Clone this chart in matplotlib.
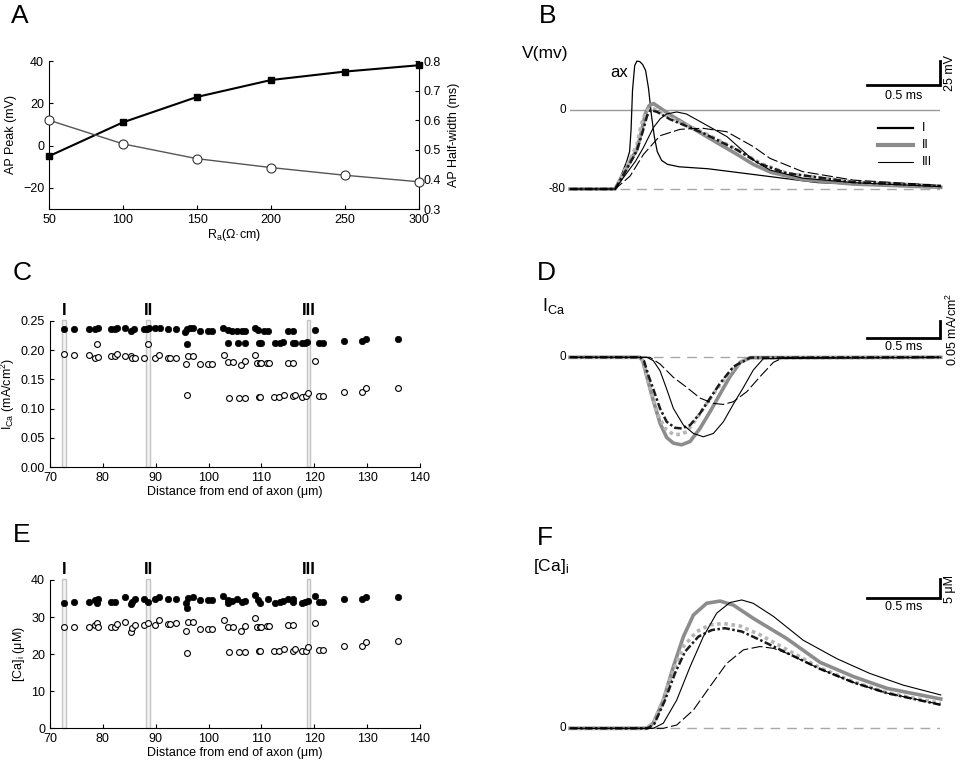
import matplotlib
matplotlib.use('Agg')
import matplotlib.pyplot as plt
from matplotlib.patches import Rectangle

plt.rcParams['font.family'] = ['Liberation Sans', 'DejaVu Sans']
plt.rcParams['font.size'] = 9
plt.rcParams['mathtext.default'] = 'regular'

# %% data

# A: AP peak and half-width vs axial resistance
ra = [50, 100, 150, 200, 250, 300]
ap_peak = [-5, 11, 23, 31, 35, 38]
half_width = [0.60, 0.52, 0.47, 0.44, 0.414, 0.392]

# C / E: distance from end of axon (um)
fill_c_x = [72.7, 74.6, 77.3, 78.5, 79.0, 81.5, 82.3, 82.6, 84.1, 85.3, 85.8, 87.7, 88.3,
            88.8, 89.9, 90.8, 92.4, 93.8, 95.5, 95.9, 96.5, 97.1, 98.4, 99.9, 100.6, 102.8,
            103.6, 104.4, 105.3, 106.3, 106.9, 108.8, 109.4, 110.4, 111.3, 115.1, 116.0, 120.1,
            95.9, 103.6, 105.6, 106.9, 109.6, 109.9, 112.6, 113.5, 114.1, 116.0, 116.4, 117.6,
            118.2, 118.7, 120.9, 121.6, 125.7, 129.0, 129.8, 135.9]
fill_c_y = [0.236, 0.236, 0.236, 0.236, 0.237, 0.236, 0.236, 0.237, 0.237, 0.232, 0.236, 0.236,
            0.236, 0.237, 0.237, 0.238, 0.236, 0.236, 0.231, 0.235, 0.238, 0.238, 0.232, 0.232,
            0.232, 0.238, 0.234, 0.232, 0.232, 0.232, 0.232, 0.238, 0.234, 0.232, 0.232, 0.232,
            0.232, 0.234,
            0.211, 0.212, 0.212, 0.212, 0.212, 0.212, 0.212, 0.212, 0.213, 0.212, 0.212, 0.212,
            0.212, 0.213, 0.212, 0.212, 0.215, 0.216, 0.218, 0.218]

open_up_x = [72.7, 74.6, 77.3, 78.5, 78.8, 79.0, 81.5, 82.3, 82.6, 84.1, 85.3, 85.6, 86.0, 87.8,
             88.6, 89.8, 90.7, 92.4, 92.7, 93.8, 95.7, 96.2, 97.1, 98.4, 99.9, 100.7, 102.9,
             103.7, 104.7, 106.1, 106.9, 108.8, 109.1, 109.7, 110.0, 111.1, 111.4, 115.1, 116.0,
             120.1]
open_up_c = [0.193, 0.192, 0.191, 0.187, 0.210, 0.188, 0.189, 0.189, 0.193, 0.190, 0.189, 0.186,
             0.186, 0.186, 0.210, 0.186, 0.191, 0.186, 0.186, 0.187, 0.176, 0.189, 0.189, 0.176,
             0.176, 0.176, 0.191, 0.179, 0.179, 0.174, 0.181, 0.192, 0.178, 0.178, 0.178, 0.178,
             0.178, 0.178, 0.178, 0.181]
open_up_e = [27.2, 27.2, 27.2, 27.8, 28.3, 27.4, 27.2, 27.2, 28.1, 28.7, 26.1, 27.0, 27.8, 27.8,
             28.5, 27.8, 29.2, 28.1, 28.1, 28.3, 26.2, 28.6, 28.6, 26.7, 26.9, 26.9, 29.2, 27.2,
             27.2, 26.3, 27.6, 29.7, 27.4, 27.4, 27.4, 27.6, 27.6, 27.8, 27.8, 28.3]

open_lo_x = [95.9, 103.8, 105.8, 106.9, 109.5, 109.7, 112.4, 113.4, 114.3, 115.9, 116.4, 117.6,
             118.4, 118.9, 120.9, 121.6, 125.7, 129.0, 129.8, 135.9]
open_lo_c = [0.124, 0.119, 0.119, 0.119, 0.120, 0.120, 0.120, 0.120, 0.124, 0.121, 0.123, 0.120,
             0.121, 0.126, 0.121, 0.121, 0.128, 0.128, 0.135, 0.136]
open_lo_e = [20.2, 20.6, 20.7, 20.7, 20.8, 20.8, 20.8, 20.8, 21.4, 20.8, 21.4, 20.8, 20.8, 22.0,
             21.0, 21.0, 22.2, 22.2, 23.4, 23.5]

fill_e_x = [72.7, 74.6, 77.3, 78.5, 78.8, 79.0, 81.5, 82.3, 84.1, 85.3, 85.6, 86.0, 87.8, 88.6,
            89.8, 90.7, 92.4, 93.8, 95.7, 95.9, 96.2, 97.1, 98.4, 99.9, 100.7, 102.8, 103.6,
            103.7, 104.5, 105.3, 106.3, 106.9, 108.8, 109.4, 109.7, 111.3, 112.6, 113.5, 114.1,
            115.1, 115.9, 116.0, 117.6, 118.2, 118.9, 120.1, 120.9, 121.6, 125.7, 129.0, 129.8,
            135.9]
fill_e_y = [33.9, 34.0, 34.0, 34.6, 33.7, 34.8, 34.1, 34.2, 35.4, 33.6, 34.2, 34.8, 34.8, 34.2,
            34.8, 35.5, 34.9, 34.9, 33.9, 32.4, 35.1, 35.5, 34.5, 34.5, 34.5, 35.7, 33.7, 34.6,
            34.4, 34.8, 34.0, 34.4, 35.9, 34.6, 33.7, 35.0, 33.7, 34.0, 34.4, 35.0, 34.0, 34.8,
            33.7, 34.0, 34.4, 35.6, 34.0, 34.0, 34.8, 34.8, 35.5, 35.5]

sites = [72.6, 88.55, 118.9]
site_names = ['I', 'II', 'III']

# B: membrane potential (ms, mV)
ax_t = [0, 0.31, 0.35, 0.39, 0.41, 0.42, 0.43, 0.445, 0.46, 0.48, 0.50, 0.52, 0.54, 0.56,
        0.58, 0.60, 0.63, 0.67, 0.75, 0.95, 1.3, 1.7, 2.2, 2.55]
ax_v = [-80, -80, -67, -52, -42, -20, 20, 45, 49.5, 49, 46, 40, 22, -5, -27, -42, -51, -55,
        -57.5, -59.5, -66, -73.5, -76.5, -77.8]
v_gs_t = [0, 0.31, 0.37, 0.42, 0.46, 0.49, 0.52, 0.545, 0.575, 0.61, 0.69, 0.85, 1.01, 1.15,
          1.26, 1.38, 1.6, 1.95, 2.55]
v_gs = [-80, -80, -64, -50, -40, -23, -3, 4.5, 6.5, 3, -5, -19, -33, -45, -55, -63, -70.5,
        -75, -78.3]
v_gd_t = [0, 0.31, 0.37, 0.42, 0.46, 0.49, 0.52, 0.55, 0.60, 0.69, 0.92, 1.15, 1.31, 1.49,
          1.95, 2.55]
v_gd = [-80, -80, -63, -48, -35, -15, -2, 2, 0, -8, -23, -40, -54, -64, -73, -77]
v_kd_t = [0, 0.31, 0.37, 0.42, 0.46, 0.50, 0.53, 0.555, 0.60, 0.69, 0.92, 1.15, 1.31, 1.49,
          1.95, 2.55]
v_kd = [-80, -80, -65, -52, -41, -22, -6, 0, -2, -9.5, -23.6, -40.5, -54.7, -64, -73, -77]
v_ks_t = [0, 0.31, 0.39, 0.45, 0.505, 0.573, 0.62, 0.665, 0.734, 0.80, 0.917, 1.08, 1.26,
          1.376, 1.6, 1.95, 2.55]
v_ks = [-80, -80, -64, -52, -38, -18, -9, -4, -2, -4, -13.5, -27, -50.6, -60.8, -69, -73.6,
        -77.6]
v_kl_t = [0, 0.31, 0.413, 0.505, 0.62, 0.757, 0.85, 0.917, 1.078, 1.26, 1.376, 1.6, 1.95, 2.55]
v_kl = [-80, -80, -67, -45, -26, -19.6, -18.8, -18.6, -22, -37, -49, -62.4, -71, -76.3]

# D: calcium current (ms, mA/cm2)
i_gs_t = [0, 0.48, 0.50, 0.53, 0.57, 0.62, 0.665, 0.711, 0.768, 0.826, 0.894, 0.963, 1.032,
          1.10, 1.17, 1.24, 2.55]
i_gs = [0, 0, -0.01, -0.06, -0.125, -0.198, -0.24, -0.257, -0.262, -0.252, -0.213, -0.163,
        -0.11, -0.058, -0.015, -0.001, 0]
i_gd_t = [0, 0.48, 0.50, 0.53, 0.562, 0.608, 0.654, 0.711, 0.757, 0.803, 0.872, 0.94, 1.032,
          1.124, 1.216, 2.55]
i_gd = [0, 0, -0.012, -0.06, -0.11, -0.175, -0.213, -0.231, -0.231, -0.223, -0.183, -0.138,
        -0.083, -0.033, -0.003, 0]
i_kd_t = [0, 0.485, 0.51, 0.54, 0.573, 0.619, 0.665, 0.722, 0.768, 0.826, 0.894, 0.963, 1.032,
          1.124, 1.24, 2.55]
i_kd = [0, 0, -0.012, -0.055, -0.095, -0.153, -0.193, -0.211, -0.213, -0.203, -0.168, -0.123,
        -0.078, -0.028, -0.001, 0]
i_ks_t = [0, 0.528, 0.573, 0.619, 0.665, 0.711, 0.78, 0.849, 0.917, 0.986, 1.055, 1.124,
          1.193, 1.261, 1.33, 2.55]
i_ks = [0, 0, -0.01, -0.04, -0.095, -0.153, -0.203, -0.228, -0.238, -0.228, -0.193, -0.14,
        -0.09, -0.038, -0.004, 0]
i_kl_t = [0, 0.55, 0.619, 0.711, 0.803, 0.894, 0.986, 1.055, 1.124, 1.216, 1.307, 1.399,
          1.468, 2.55]
i_kl = [0, 0, -0.02, -0.06, -0.09, -0.122, -0.138, -0.141, -0.133, -0.103, -0.058, -0.015,
        -0.001, 0]

# F: intracellular calcium (ms, uM)
c_gs_t = [0, 0.528, 0.573, 0.642, 0.711, 0.78, 0.849, 0.94, 1.032, 1.124, 1.26, 1.49, 1.72,
          1.95, 2.18, 2.55]
c_gs = [0, 0, 1.4, 7.7, 16.8, 25, 30.9, 34.1, 34.7, 33.6, 30, 24.5, 18.0, 14.1, 10.9, 8.0]
c_gd_t = [0, 0.528, 0.573, 0.642, 0.711, 0.78, 0.872, 0.963, 1.055, 1.17, 1.307, 1.49, 1.72,
          1.95, 2.18, 2.55]
c_gd = [0, 0, 1.5, 7.7, 15.9, 22.3, 26.4, 28.2, 28.6, 27.9, 25.5, 21.5, 16.5, 12.7, 9.7, 6.8]
c_kd_t = [0, 0.535, 0.58, 0.654, 0.722, 0.791, 0.883, 0.975, 1.066, 1.181, 1.307, 1.49, 1.72,
          1.95, 2.18, 2.55]
c_kd = [0, 0, 1.2, 7.7, 15, 20.9, 25, 26.8, 27.3, 26.4, 24.1, 20.6, 16.2, 12.5, 9.6, 6.4]
c_ks_t = [0, 0.573, 0.642, 0.734, 0.826, 0.917, 1.009, 1.10, 1.181, 1.26, 1.40, 1.605, 1.835,
          2.06, 2.29, 2.55]
c_ks = [0, 0, 1.4, 7.7, 16.8, 25, 31.4, 34.3, 35, 34.1, 30.5, 24, 19, 15, 11.8, 9.1]
c_kl_t = [0, 0.642, 0.734, 0.849, 0.963, 1.078, 1.193, 1.307, 1.40, 1.49, 1.72, 1.95, 2.18, 2.55]
c_kl = [0, 0, 0.9, 5, 11.4, 17.7, 21.4, 22.3, 21.8, 20.5, 16.2, 12.5, 9.6, 6.5]

# %% styles and layout helpers

W, H = 967, 763
T_END = 2.545

sty_gs = dict(color='#8c8c8c', lw=2.6, ls='-')
sty_gd = dict(color='#b5b5b5', lw=2.6, ls=(0, (1, 1)))
sty_kd = dict(color='#1a1a1a', lw=1.8, ls=(0, (3, 1, 1, 1)))
sty_ks = dict(color='k', lw=0.8, ls='-')
sty_kl = dict(color='k', lw=0.8, ls=(0, (10, 3)))


def pbox(l, t, r, b):
    return [l / W, 1 - b / H, (r - l) / W, (b - t) / H]


fig = plt.figure(figsize=(W / 100, H / 100), dpi=100)

for letter, (px, py) in zip('ABCDEF', [(11, 4), (539, 4), (13, 261), (537, 261),
                                       (13, 523), (537, 526)]):
    fig.text(px / W, 1 - py / H, letter, fontsize=19, ha='left', va='top')

# %% A

axA = fig.add_axes(pbox(49, 61, 419, 209))
axA.plot(ra, ap_peak, '-s', color='k', lw=1.5, ms=5, mfc='k', mec='k', clip_on=False, zorder=3)
axA.set_xlim(50, 300)
axA.set_ylim(-30, 40)
axA.set_yticks([-20, 0, 20, 40])
axA.set_xticks(range(50, 301, 50))
axA.set_ylabel('AP Peak (mV)')
axA.set_xlabel(r'$R_a$(Ω·cm)', labelpad=1)
axA.spines['top'].set_visible(False)
axA.spines['right'].set_visible(False)
axA.tick_params(direction='in', length=3)

axA2 = axA.twinx()
axA2.plot(ra, half_width, '-o', color='#555555', lw=1, ms=6.5, mfc='white', mec='#333333',
          mew=0.8, clip_on=False, zorder=3)
axA2.set_ylim(0.3, 0.8)
axA2.set_yticks([0.3, 0.4, 0.5, 0.6, 0.7, 0.8])
axA2.set_ylabel('AP Half-width (ms)', labelpad=5)
for s in ['top', 'left', 'bottom']:
    axA2.spines[s].set_visible(False)
axA2.tick_params(direction='in', length=3)


# %% C and E

def scatter_panel(box, fx, fy, ux, uy, lx, ly, ylim, yticks, ylabel, fmt, name_y):
    ax = fig.add_axes(pbox(*box))
    for xb, nm in zip(sites, site_names):
        ax.add_patch(Rectangle((xb - 0.35, 0), 0.7, ylim[1] * 1.005, fc='#f4f4f4',
                               ec='#c4c4c4', lw=1, zorder=1, clip_on=False))
        ax.text(xb, name_y, nm, ha='center', va='bottom', fontsize=12, fontweight='bold')
    ax.plot(ux, uy, 'o', ms=4.2, mfc='white', mec='k', mew=0.8, ls='none', zorder=2)
    ax.plot(lx, ly, 'o', ms=4.2, mfc='white', mec='k', mew=0.8, ls='none', zorder=2)
    ax.plot(fx, fy, 'o', ms=4.6, mfc='k', mec='k', mew=0.5, ls='none', zorder=3)
    ax.set_xlim(70, 140)
    ax.set_ylim(*ylim)
    ax.set_yticks(yticks)
    ax.set_yticklabels([fmt.format(v) for v in yticks])
    ax.set_xticks(range(70, 141, 10))
    ax.set_xlabel('Distance from end of axon (μm)', labelpad=1)
    ax.set_ylabel(ylabel, labelpad=3)
    ax.spines['top'].set_visible(False)
    ax.spines['right'].set_visible(False)
    ax.tick_params(direction='in', length=3)
    return ax


scatter_panel((50, 320.7, 420, 467.3), fill_c_x, fill_c_y, open_up_x, open_up_c,
              open_lo_x, open_lo_c, (0, 0.25), [0, 0.05, 0.10, 0.15, 0.20, 0.25],
              r'$I_{Ca}$ (mA/cm$^2$)', '{:.2f}', 0.255)
scatter_panel((50, 580, 420, 728.3), fill_e_x, fill_e_y, open_up_x, open_up_e,
              open_lo_x, open_lo_e, (0, 40), [0, 10, 20, 30, 40],
              r'$[Ca]_i$ ($\mu$M)', '{:.0f}', 40.9)


# %% B, D, F traces

def trace_axes(box, ylim):
    ax = fig.add_axes(pbox(*box))
    ax.set_xlim(0, T_END)
    ax.set_ylim(*ylim)
    ax.axis('off')
    return ax


def scale_bar(ax, y0, dy, ylab, dx=0.5):
    ax.plot([T_END - dx, T_END, T_END], [y0, y0, y0 + dy], color='k', lw=2,
            solid_joinstyle='miter', clip_on=False)
    ax.text(T_END - dx / 2, y0 - dy * 0.2, '0.5 ms', ha='center', va='top', fontsize=9)
    ax.text(T_END + 0.03, y0 + dy / 2, ylab, rotation=90, ha='left', va='center', fontsize=9)


def draw_traces(ax, series):
    for t, v, sty in series:
        ax.plot(t, v, clip_on=False, **sty)


axB = trace_axes((570, 45, 940, 230), (-121.5, 65.8))
axB.plot([0, T_END], [0, 0], color='#9a9a9a', lw=1)
axB.plot([0, T_END], [-80, -80], color='#a8a8a8', lw=1, ls=(0, (7, 5)))
axB.plot(ax_t, ax_v, color='k', lw=0.9)
draw_traces(axB, [(v_gs_t, v_gs, sty_gs), (v_gd_t, v_gd, sty_gd), (v_kd_t, v_kd, sty_kd),
                  (v_ks_t, v_ks, sty_ks), (v_kl_t, v_kl, sty_kl)])
axB.text(-0.03, 0, '0', ha='right', va='center', fontsize=8.5)
axB.text(-0.03, -80, '-80', ha='right', va='center', fontsize=8.5)
axB.text(-0.33, 57.5, 'V(mv)', ha='left', va='center', fontsize=12.5)
axB.text(0.337, 37.5, 'ax', ha='center', va='center', fontsize=12)
scale_bar(axB, 25, 25, '25 mV')
for yl, nm, sty in zip([-18.2, -35.4, -52.7], site_names,
                       [dict(color='k', lw=1.6), dict(color='#8c8c8c', lw=3),
                        dict(color='k', lw=0.8)]):
    axB.plot([2.118, 2.359], [yl, yl], **sty)
    axB.text(2.42, yl, nm, ha='left', va='center', fontsize=9)

axD = trace_axes((570, 275, 940, 470), (-0.3374, 0.2464))
axD.plot([0, T_END], [0, 0], color='#a8a8a8', lw=1, ls=(0, (7, 5)))
draw_traces(axD, [(i_gs_t, i_gs, sty_gs), (i_gd_t, i_gd, sty_gd), (i_kd_t, i_kd, sty_kd),
                  (i_ks_t, i_ks, sty_ks), (i_kl_t, i_kl, sty_kl)])
axD.text(-0.03, 0, '0', ha='right', va='center', fontsize=8.5)
axD.text(-0.19, 0.155, r'$I_{Ca}$', ha='left', va='center', fontsize=13)
scale_bar(axD, 0.0587, 0.05, r'0.05 mA/cm$^2$')

axF = trace_axes((570, 560, 940, 760), (-8.64, 45.9))
axF.plot([0, T_END], [0, 0], color='#a8a8a8', lw=1, ls=(0, (7, 5)))
draw_traces(axF, [(c_gs_t, c_gs, sty_gs), (c_gd_t, c_gd, sty_gd), (c_kd_t, c_kd, sty_kd),
                  (c_ks_t, c_ks, sty_ks), (c_kl_t, c_kl, sty_kl)])
axF.text(-0.03, 0, '0', ha='right', va='center', fontsize=8.5)
axF.text(-0.255, 44, r'$[Ca]_i$', ha='left', va='center', fontsize=12.5)
scale_bar(axF, 35.6, 5, '5 μM')

fig.savefig('out.png', dpi=100)
